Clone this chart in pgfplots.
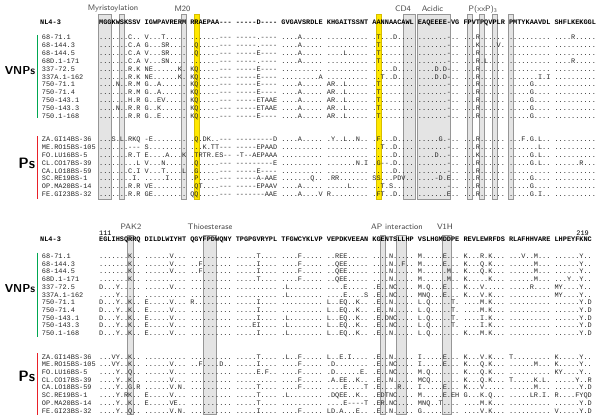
\documentclass[border=0pt]{standalone}
\usepackage{pgfplots}
\pgfplotsset{compat=1.18}
\usepackage{fontspec}
\setmainfont{Liberation Sans}
\setmonofont{Liberation Mono}
\frenchspacing
\definecolor{boxfill}{RGB}{228,228,228}
\definecolor{boxedge}{RGB}{150,150,150}
\definecolor{ylw}{RGB}{255,232,0}
\definecolor{ylwedge}{RGB}{215,190,0}
\definecolor{vgreen}{RGB}{0,166,81}
\definecolor{pred}{RGB}{232,32,40}
\definecolor{lbl}{RGB}{70,70,70}
\newcommand\sq{\fontsize{6.9bp}{7bp}\selectfont\ttfamily}
\newcommand\sqb{\fontsize{6.9bp}{7bp}\selectfont\ttfamily\bfseries}
\newcommand\feat{\fontsize{8bp}{9bp}\selectfont\sffamily\color{lbl}}
\newcommand\SeqRow[2]{\node[anchor=base west,inner sep=0pt,font=\sq,text=black!85] at (axis cs:99,#1) {#2};}
\newcommand\SeqLab[2]{\node[anchor=base west,inner sep=0pt,font=\sq,text=black!85] at (axis cs:41.7,#1) {#2};}
\begin{document}
\begin{tikzpicture}
\begin{axis}[width=600bp,height=415bp,scale only axis,xmin=0,xmax=600,ymin=0,ymax=415,
  y dir=reverse,hide axis,clip=false]
% ---------- top block boxes ----------
\addplot[fill=boxfill,draw=boxedge,line width=0.6bp] coordinates {(98.4,14) (111.4,14) (111.4,199) (98.4,199)} --cycle;
\addplot[fill=boxfill,draw=boxedge,line width=0.6bp] coordinates {(119.3,14) (124.2,14) (124.2,199) (119.3,199)} --cycle;
\addplot[fill=boxfill,draw=boxedge,line width=0.6bp] coordinates {(181.4,14) (186.3,14) (186.3,199) (181.4,199)} --cycle;
\addplot[fill=ylw,draw=ylwedge,line width=0.6bp] coordinates {(193.8,14) (198.8,14) (198.8,199) (193.8,199)} --cycle;
\addplot[fill=ylw,draw=ylwedge,line width=0.6bp] coordinates {(376.0,14) (380.9,14) (380.9,199) (376.0,199)} --cycle;
\addplot[fill=boxfill,draw=boxedge,line width=0.6bp] coordinates {(403.0,14) (415.0,14) (415.0,199) (403.0,199)} --cycle;
\addplot[fill=boxfill,draw=boxedge,line width=0.6bp] coordinates {(416.8,14) (450.6,14) (450.6,199) (416.8,199)} --cycle;
\addplot[fill=boxfill,draw=boxedge,line width=0.6bp] coordinates {(467.1,14) (472.0,14) (472.0,199) (467.1,199)} --cycle;
\addplot[fill=boxfill,draw=boxedge,line width=0.6bp] coordinates {(479.5,14) (484.4,14) (484.4,199) (479.5,199)} --cycle;
\addplot[fill=boxfill,draw=boxedge,line width=0.6bp] coordinates {(491.9,14) (496.8,14) (496.8,199) (491.9,199)} --cycle;
\addplot[fill=boxfill,draw=boxedge,line width=0.6bp] coordinates {(508.5,14) (513.4,14) (513.4,199) (508.5,199)} --cycle;
% ---------- bottom block boxes ----------
\addplot[fill=boxfill,draw=boxedge,line width=0.6bp] coordinates {(126.8,235) (133.6,235) (133.6,414.5) (126.8,414.5)} --cycle;
\addplot[fill=boxfill,draw=boxedge,line width=0.6bp] coordinates {(203.0,235) (216.0,235) (216.0,414.5) (203.0,414.5)} --cycle;
\addplot[fill=boxfill,draw=boxedge,line width=0.6bp] coordinates {(380.1,235) (385.0,235) (385.0,414.5) (380.1,414.5)} --cycle;
\addplot[fill=boxfill,draw=boxedge,line width=0.6bp] coordinates {(396.7,235) (405.8,235) (405.8,414.5) (396.7,414.5)} --cycle;
\addplot[fill=boxfill,draw=boxedge,line width=0.6bp] coordinates {(442.3,235) (451.2,235) (451.2,414.5) (442.3,414.5)} --cycle;
% ---------- group bars ----------
\addplot[draw=vgreen,line width=1.5bp] coordinates {(37.7,35) (37.7,117.5)};
\addplot[draw=pred,line width=1.5bp] coordinates {(37.7,136) (37.7,199)};
\addplot[draw=vgreen,line width=1.5bp] coordinates {(37.7,252.7) (37.7,336.7)};
\addplot[draw=pred,line width=1.5bp] coordinates {(37.7,353.3) (37.7,414.5)};
% ---------- feature labels ----------
\node[font=\feat] at (axis cs:113,9) {Myristoylation};
\node[font=\feat] at (axis cs:182.5,9) {M20};
\node[font=\feat] at (axis cs:403,9) {CD4};
\node[font=\feat] at (axis cs:432.5,9) {Acidic};
\node[font=\feat] at (axis cs:483,9.5) {P(xxP)\textsubscript{3}};
\node[font=\feat] at (axis cs:131,227) {PAK2};
\node[font=\feat] at (axis cs:210,227) {Thioesterase};
\node[font=\feat] at (axis cs:397,227) {AP interaction};
\node[font=\feat] at (axis cs:445,227) {V1H};
\node[anchor=base west,inner sep=0pt,font=\sq] at (axis cs:99,235) {111};
\node[anchor=base east,inner sep=0pt,font=\sq] at (axis cs:589,235) {219};
% ---------- group names ----------
\node[anchor=base east,inner sep=0pt,font=\fontsize{11.5bp}{12bp}\selectfont\sffamily\bfseries] at (axis cs:35.5,74.5) {VNPs};
\node[anchor=base east,inner sep=0pt,font=\fontsize{15bp}{16bp}\selectfont\sffamily\bfseries] at (axis cs:35.5,168) {Ps};
\node[anchor=base east,inner sep=0pt,font=\fontsize{11.5bp}{12bp}\selectfont\sffamily\bfseries] at (axis cs:35.5,292.5) {VNPs};
\node[anchor=base east,inner sep=0pt,font=\fontsize{15bp}{16bp}\selectfont\sffamily\bfseries] at (axis cs:35.5,381.5) {Ps};
% ---------- top block ----------
\node[anchor=base west,inner sep=0pt,font=\sqb] at (axis cs:40,24.3) {NL4-3};
\node[anchor=base west,inner sep=0pt,font=\sqb] at (axis cs:99,24.3) {MGGKWSKSSV IGWPAVRERM RRAEPAA--- -----D---- GVGAVSRDLE KHGAITSSNT AANNAACAWL EAQEEEE-VG FPVTPQVPLR PMTYKAAVDL SHFLKEKGGL};
\SeqLab{40.0}{68-71.1}
\SeqLab{47.8}{68-144.3}
\SeqLab{55.6}{68-144.5}
\SeqLab{63.4}{68D.1-171}
\SeqLab{71.2}{337-72.5}
\SeqLab{79.0}{337A.1-162}
\SeqLab{86.8}{750-71.1}
\SeqLab{94.6}{750-71.4}
\SeqLab{102.4}{750-143.1}
\SeqLab{110.2}{750-143.3}
\SeqLab{118.0}{750.1-168}
\SeqRow{40.0}{.......C.. V...T..... .......--- -----.---- ....A..... .......... .T...D.... .......-.. ...R...... .......... ....R.....}
\SeqRow{47.8}{.......C.A G...SR.... .Q.....--- -----.---- ....A..... .......... .T........ .......-.. ...K....V. .......... ..........}
\SeqRow{55.6}{.......C.A V...SR.... .Q.....--- -----E---- ....A..... ....L..... .T........ .......-.. ...R...... .......... ..........}
\SeqRow{63.4}{.......C.A V...SN.... .......--- -----.---- ....A..... .......... .T........ .......-.. ...R.L.... .......... ....R.....}
\SeqRow{71.2}{.......R.K NE......K. KQ.....--- -----E---- .......... .......... .....D.... ....D.D-.. ...R...... .......... ..........}
\SeqRow{79.0}{.......R.K NE......K. KQ.....--- -----E---- .........A .......... ..T..D.... ....D.D-.. ...R...... .......I.I ..........}
\SeqRow{86.8}{....N..R.M G..A...... KQ.....--- -----E---- ....A..... AR..L..... .T........ .......-.. ...R...... .....G.... ..........}
\SeqRow{94.6}{.......R.M G..A...... KQ.....--- -----E---- ....A..... AR..L..... .T........ .......-.. ...R...... .....G.... ..........}
\SeqRow{102.4}{.......H.R G..EV..... KQ.....--- -----ETAAE ....A..... AR..L..... .T........ .......-.. ...R...... .....G.... ..........}
\SeqRow{110.2}{....N..R.R G..K...... KQ.....--- -----ETAAE ....A..... AR..L..... .T........ .......-.. ...R...... .....G.... ..........}
\SeqRow{118.0}{.......R.R G..E...... KQ.....--- -----E---- ....A..... AR..L..... .T........ .......-.. ...R...... .....G.... ..........}
\SeqLab{141.6}{ZA.GI14BS-36}
\SeqLab{149.5}{ME.RO15BS-105}
\SeqLab{157.3}{FO.LU16BS-5}
\SeqLab{165.2}{CL.CO17BS-39}
\SeqLab{173.0}{CA.LO18BS-59}
\SeqLab{180.9}{SC.RE19BS-1}
\SeqLab{188.8}{OP.MA20BS-14}
\SeqLab{196.6}{FE.GI23BS-32}
\SeqRow{141.6}{...S.L.RKQ -E........ .Q.DK..--- ---------D ....A..... .Y..L..N.. .F...D.... .....G.-.. ...R...... ...F.G.L.. ..........}
\SeqRow{149.5}{.......--- S......... ...K.TT--- -----EPAAD .......... .......... ..T..D.... .......-.. ...R...... .......L.. ..........}
\SeqRow{157.3}{.......R.T E....A...K .TRTR.ES-- -T--AEPAAA .......... .......... .....D.... ....D..-.. ...K...... .....G.L.. ..........}
\SeqRow{165.2}{.........L V...N..... .Q.....--- ---------E .......... .......N.I .G--.D.... .......-.. ...R...... .....G.L.. ......R...}
\SeqRow{173.0}{.......C.I V...T....L .G.....--- -----E---- .......... .......... .....D.... .......-.. ...R...... .......... ..........}
\SeqRow{180.9}{........I. .....I.... .P.....--- -----A-AAE .......Q.. .RR....... SS...PDV.. ....-D.E.. ...R...... .....G.... ..........}
\SeqRow{188.8}{.......R.R VE........ .QT....--- -----EPAAV ....A..... .....L.... ..T.S..... .......-.. ...R...... .....G.... ..........}
\SeqRow{196.6}{.......R.R GE........ QQ.....--- -------AAE ....A....V R......... .FT..D.... .......E.. ...R...... .....G.I.. ..........}
% ---------- bottom block ----------
\node[anchor=base west,inner sep=0pt,font=\sqb] at (axis cs:40,241.6) {NL4-3};
\node[anchor=base west,inner sep=0pt,font=\sqb] at (axis cs:99,241.6) {EGLIHSQRRQ DILDLWIYHT QGYFPDWQNY TPGPGVRYPL TFGWCYKLVP VEPDKVEEAN KGENTSLLHP VSLHGMDDPE REVLEWRFDS RLAFHHVARE LHPEYFKNC};
\SeqLab{258.3}{68-71.1}
\SeqLab{266.0}{68-144.3}
\SeqLab{273.8}{68-144.5}
\SeqLab{281.5}{68D.1-171}
\SeqLab{289.2}{337-72.5}
\SeqLab{297.0}{337A.1-162}
\SeqLab{304.7}{750-71.1}
\SeqLab{312.4}{750-71.4}
\SeqLab{320.1}{750-143.1}
\SeqLab{327.9}{750-143.3}
\SeqLab{335.6}{750.1-168}
\SeqRow{258.3}{.......K.. ......V... .......... .....T.... ....F..... ..REE..... ....N..... M.....E... K...R.K... ...V..M... ......Y..}
\SeqRow{266.0}{.......K.. ......V... ..F....... .....I.... ....F..... ..QEE..... ....N..F.. M.....E... K...Q.K... ......M... ......Y..}
\SeqRow{273.8}{.......K.. ......V... ..F....... .....I.... ....F..... ..QEE..... ....N..... M......M.. K...Q.K... ......M... ......Y..}
\SeqRow{281.5}{.......K.. .......... .......... .....T.... ....F..... ..QEE..... ....N..... M......M.. K.....K... ......M... ...Y..Y..}
\SeqRow{289.2}{D...Y..... ......V... .......... .......... .L........ ....E..... .E..NC.... M.Q...E... K...V..... .....R.... MY....Y..}
\SeqRow{297.0}{....Y..... .......... .......... .......... .L........ ....E....S .E..NC.... MNQ...E... K...V.K... .......... MY....Y..}
\SeqRow{304.7}{D...Y..K.. E.....V... R......... .....I.... .......... L..EQ..K.. .E..N..... L.Q.....T. ....M.K... .......... ......Y.D}
\SeqRow{312.4}{D...Y..K.. E.....V... .......... .....I.... .......... L..EQ..K.. .E..N..... L.Q.....T. ....M.K... .......... ......Y.D}
\SeqRow{320.1}{D...Y..K.. E.....V... .......... .....I.... .L........ L..EQ..K.. .E.DNC.... L.Q.....T. ....I.K... .......... ......Y.D}
\SeqRow{327.9}{D...Y..K.. E.....V... .......... ....EI.... .L........ L..EQ..K.. .E..NC.... L.Q.....T. ....I.K... .......... ......Y.D}
\SeqRow{335.6}{D...Y..K.. E.....V... .......... .....I.... .L........ L..EQ..K.. .E..N..... L.Q....... K...M.K... .......... ......Y.D}
\SeqLab{359.0}{ZA.GI14BS-36}
\SeqLab{366.7}{ME.RO15BS-105}
\SeqLab{374.4}{FO.LU16BS-5}
\SeqLab{382.1}{CL.CO17BS-39}
\SeqLab{389.8}{CA.LO18BS-59}
\SeqLab{397.6}{SC.RE19BS-1}
\SeqLab{405.3}{OP.MA20BS-14}
\SeqLab{413.0}{FE.GI23BS-32}
\SeqRow{359.0}{...VY..K.. .......... .......... .....T.... .L..F..... L..E.I.... .E..N..... I.....E... K...V.K... T......... K.....Y..}
\SeqRow{366.7}{...VY..K.. ......V... ..F....D.. .....I.... ....F..... .D........ .E..NC.... I.....E... K...Q.K... ......M... K.....Y..}
\SeqRow{374.4}{....Y..Q.. ......V... .......... .....E.F.. ....F..... .D......E. .E..NC.... M.Q....... K...Q.K... .......... KY....Y..}
\SeqRow{382.1}{....Y..K.. ......V... .......... .......... ....F..... .A.EE..K.. .E..N..... MCQ....... K...Q.K... T.....K.L. .....Y..R}
\SeqRow{389.8}{....Y..G.R ......V.N. .......... .....T.... ....F..... ....E....T .E....R... I.....E... K...V..... ......M... ......Y.D}
\SeqRow{397.6}{....Y.RK.. E.....V... .......... .....T.... .L........ .DQEE..K.. .EDTNC.... M.....E.EH G...K.Q... .....LR.I. R....FYQD}
\SeqRow{405.3}{....Y..K.. E.....VE.. .......... .....T.... .......... ....E----T .ER.NC.... MNQ..T.... ....M.K... .......... ......Y.D}
\SeqRow{413.0}{....Y..Q.. ......V.N. .......... .....I.... ....F..... LD.A...E.. .E..N..... G......... ....V.K... .......... V.....Y.D}
\end{axis}
\pgfresetboundingbox
\path (current axis.south west) rectangle (current axis.north east);
\end{tikzpicture}
\end{document}
